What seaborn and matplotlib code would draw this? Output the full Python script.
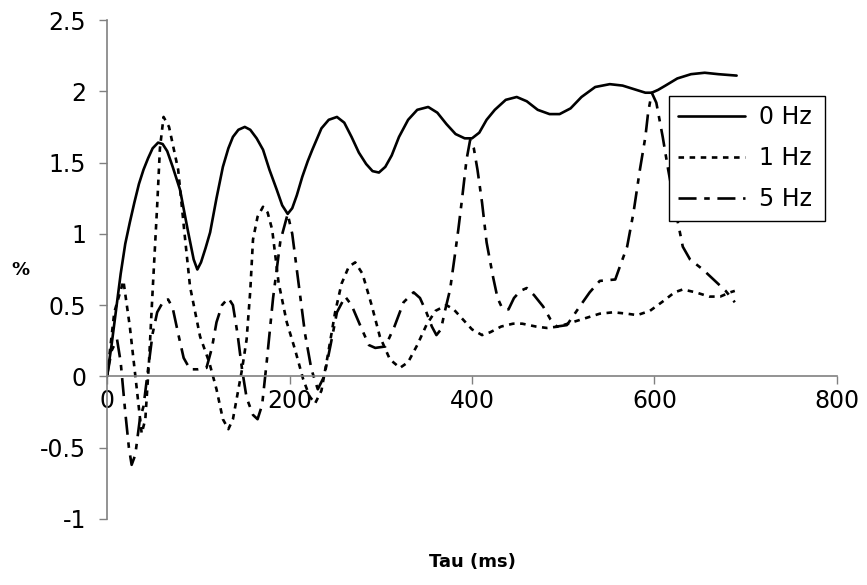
import matplotlib
matplotlib.use("Agg")
import matplotlib.pyplot as plt
import seaborn as sns
import pandas as pd

# ---------------- data ----------------
tau_0hz = [0, 5, 10, 15, 20, 25, 30, 35, 40, 45, 50, 56, 61, 66, 72, 80, 89, 95, 99, 103, 108,
           113, 120, 127, 133, 138, 144, 151, 157, 164, 171, 178, 186, 192, 198, 203, 208,
           214, 220, 225, 235, 243, 252, 260, 268, 276, 284, 291, 298, 305, 312, 320, 330,
           340, 352, 362, 372, 382, 392, 400, 408, 416, 425, 437, 449, 460, 472, 485, 496,
           508, 520, 535, 551, 565, 580, 590, 597, 604, 612, 625, 640, 655, 670, 690]
val_0hz = [0, 0.22, 0.47, 0.72, 0.93, 1.08, 1.22, 1.35, 1.45, 1.53, 1.6, 1.64, 1.63, 1.58,
           1.47, 1.31, 1.01, 0.82, 0.75, 0.8, 0.9, 1.01, 1.25, 1.47, 1.6, 1.68, 1.73, 1.75,
           1.73, 1.67, 1.59, 1.45, 1.31, 1.2, 1.14, 1.18, 1.27, 1.40, 1.51, 1.59, 1.74, 1.80,
           1.82, 1.78, 1.68, 1.57, 1.49, 1.44, 1.43, 1.47, 1.55, 1.68, 1.8, 1.87, 1.89, 1.85,
           1.77, 1.7, 1.67, 1.67, 1.71, 1.8, 1.87, 1.94, 1.96, 1.93, 1.87, 1.84, 1.84, 1.88,
           1.96, 2.03, 2.05, 2.04, 2.01, 1.99, 1.99, 2.01, 2.04, 2.09, 2.12, 2.13, 2.12, 2.11]

tau_1hz = [0, 8, 18, 25, 32, 38, 42, 46, 50, 55, 58, 62, 68, 73, 78, 85, 91, 102, 112, 120,
           127, 133, 138, 142, 148, 153, 157, 160, 165, 171, 176, 181, 188, 197, 206, 215,
           222, 228, 235, 242, 250, 257, 265, 272, 280, 290, 299, 310, 321, 330, 340, 350,
           360, 372, 380, 390, 400, 411, 420, 432, 445, 455, 470, 482, 495, 510, 525, 540,
           555, 570, 581, 595, 610, 622, 631, 645, 660, 672, 683, 688]
val_1hz = [0, 0.45, 0.67, 0.35, -0.05, -0.4, -0.3, 0.1, 0.6, 1.2, 1.6, 1.82, 1.75, 1.6, 1.45,
           1.0, 0.63, 0.28, 0.1, -0.09, -0.3, -0.37, -0.3, -0.16, 0.05, 0.26, 0.6, 0.96, 1.12,
           1.19, 1.15, 1.03, 0.66, 0.38, 0.19, -0.02, -0.14, -0.19, -0.1, 0.15, 0.45, 0.65,
           0.77, 0.8, 0.72, 0.5, 0.28, 0.12, 0.06, 0.1, 0.22, 0.36, 0.46, 0.5, 0.47, 0.4, 0.33,
           0.29, 0.31, 0.35, 0.37, 0.37, 0.35, 0.34, 0.35, 0.38, 0.41, 0.44, 0.45, 0.44, 0.43,
           0.46, 0.53, 0.59, 0.61, 0.59, 0.56, 0.56, 0.59, 0.6]

tau_5hz = [0, 5, 11, 15, 20, 24, 27, 31, 36, 40, 45, 50, 55, 62, 67, 72, 78, 84, 91, 100,
           109, 115, 120, 126, 133, 138, 143, 148, 153, 160, 165, 170, 175, 182, 190, 198,
           203, 210, 217, 224, 231, 238, 245, 252, 261, 268, 278, 287, 294, 305, 315, 325,
           336, 343, 350, 356, 361, 366, 370, 376, 381, 385, 389, 394, 398, 402, 406, 411,
           416, 423, 428, 433, 440, 446, 453, 460, 468, 478, 486, 493, 504, 518, 529, 540,
           557, 562, 570, 577, 584, 590, 593, 597, 602, 609, 615, 625, 631, 639, 653, 668,
           678, 688]
val_5hz = [0, 0.18, 0.26, 0.1, -0.25, -0.5, -0.62, -0.55, -0.3, -0.21, 0.05, 0.3, 0.45, 0.53,
           0.54, 0.48, 0.3, 0.13, 0.05, 0.05, 0.06, 0.2, 0.38, 0.5, 0.55, 0.5, 0.3, 0.05,
           -0.15, -0.27, -0.3, -0.2, 0.1, 0.55, 0.95, 1.14, 1.0, 0.65, 0.3, 0.05, -0.09, 0.0,
           0.22, 0.45, 0.56, 0.5, 0.35, 0.22, 0.2, 0.21, 0.35, 0.52, 0.59, 0.55, 0.45, 0.35,
           0.29, 0.33, 0.45, 0.61, 0.84, 1.03, 1.24, 1.52, 1.66, 1.6, 1.45, 1.22, 0.94, 0.70,
           0.55, 0.48, 0.47, 0.55, 0.6, 0.62, 0.57, 0.49, 0.4, 0.35, 0.36, 0.49, 0.59, 0.67,
           0.68, 0.77, 0.91, 1.15, 1.45, 1.68, 1.85, 1.99, 1.92, 1.68, 1.45, 1.10, 0.91, 0.82,
           0.75, 0.66, 0.6, 0.52]

series_names = ["0 Hz", "1 Hz", "5 Hz"]
x_ticks = [0, 200, 400, 600, 800]
y_ticks = [-1, -0.5, 0, 0.5, 1, 1.5, 2, 2.5]
y_tick_labels = ["-1", "-0.5", "0", "0.5", "1", "1.5", "2", "2.5"]

# ---------------- figure ----------------
sns.set_theme(style="white")
plt.rcParams["font.family"] = ["DejaVu Sans"]
plt.rcParams["lines.scale_dashes"] = False
plt.rcParams["text.color"] = "black"
plt.rcParams["axes.labelcolor"] = "black"
plt.rcParams["xtick.labelcolor"] = "black"
plt.rcParams["ytick.labelcolor"] = "black"

fig = plt.figure(figsize=(8.67, 5.85), dpi=100)
ax = fig.add_axes([107 / 867, 1 - 519 / 585, 730 / 867, 499 / 585])

dash_styles = [None, (0, (4.0, 4.0)), (0, (13, 5.5, 4.0, 5.5))]
for name, xs, ys, ds in zip(series_names, [tau_0hz, tau_1hz, tau_5hz],
                            [val_0hz, val_1hz, val_5hz], dash_styles):
    df = pd.DataFrame({"tau": xs, "val": ys})
    sns.lineplot(data=df, x="tau", y="val", ax=ax, color="black", linewidth=1.9,
                 estimator=None, sort=False, label=name)
    line = ax.lines[-1]
    if ds is not None:
        line.set_linestyle(ds)

ax.set_xlim(0, 800)
ax.set_ylim(-1, 2.5)
ax.set_xticks(x_ticks)
ax.set_xticklabels([str(t) for t in x_ticks])
ax.set_yticks(y_ticks)
ax.set_yticklabels(y_tick_labels)

gray = "#808080"
for s in ["top", "right"]:
    ax.spines[s].set_visible(False)
ax.spines["bottom"].set_position(("data", 0))
ax.spines["left"].set_position(("data", 0))
for s in ["bottom", "left"]:
    ax.spines[s].set_color(gray)
    ax.spines[s].set_linewidth(1.2)

ax.tick_params(axis="y", direction="out", length=6, width=1.0, color=gray,
               labelsize=17, pad=9, left=True, labelcolor="black")
ax.tick_params(axis="x", direction="out", length=6, width=1.0, color=gray,
               labelsize=17, pad=3, bottom=True, labelcolor="black")

ax.set_ylabel("%", rotation=0, fontweight="bold", fontsize=13, color="black")
ax.yaxis.set_label_coords(-0.119, 0.499)
ax.set_xlabel("Tau (ms)", fontweight="bold", fontsize=13, color="black")
ax.xaxis.set_label_coords(0.5, -0.087)
ax.xaxis.label.set_va("center")
ax.yaxis.label.set_va("center")

leg = ax.legend(handles=ax.lines[:3], labels=series_names,
                loc="upper left", bbox_to_anchor=((669 - 107) / 730, (519 - 96) / 499,
                                                   (825 - 669) / 730, 0.0),
                mode="expand", borderaxespad=0, fontsize=17, frameon=True,
                fancybox=False, shadow=False, handlelength=2.8, handletextpad=0.6,
                labelspacing=0.72, borderpad=0.4)
for t in leg.get_texts():
    t.set_color("black")
leg.get_frame().set_edgecolor("black")
leg.get_frame().set_linewidth(1.0)
leg.get_frame().set_facecolor("white")
leg.get_frame().set_alpha(1)

fig.savefig("out.png", dpi=100)
